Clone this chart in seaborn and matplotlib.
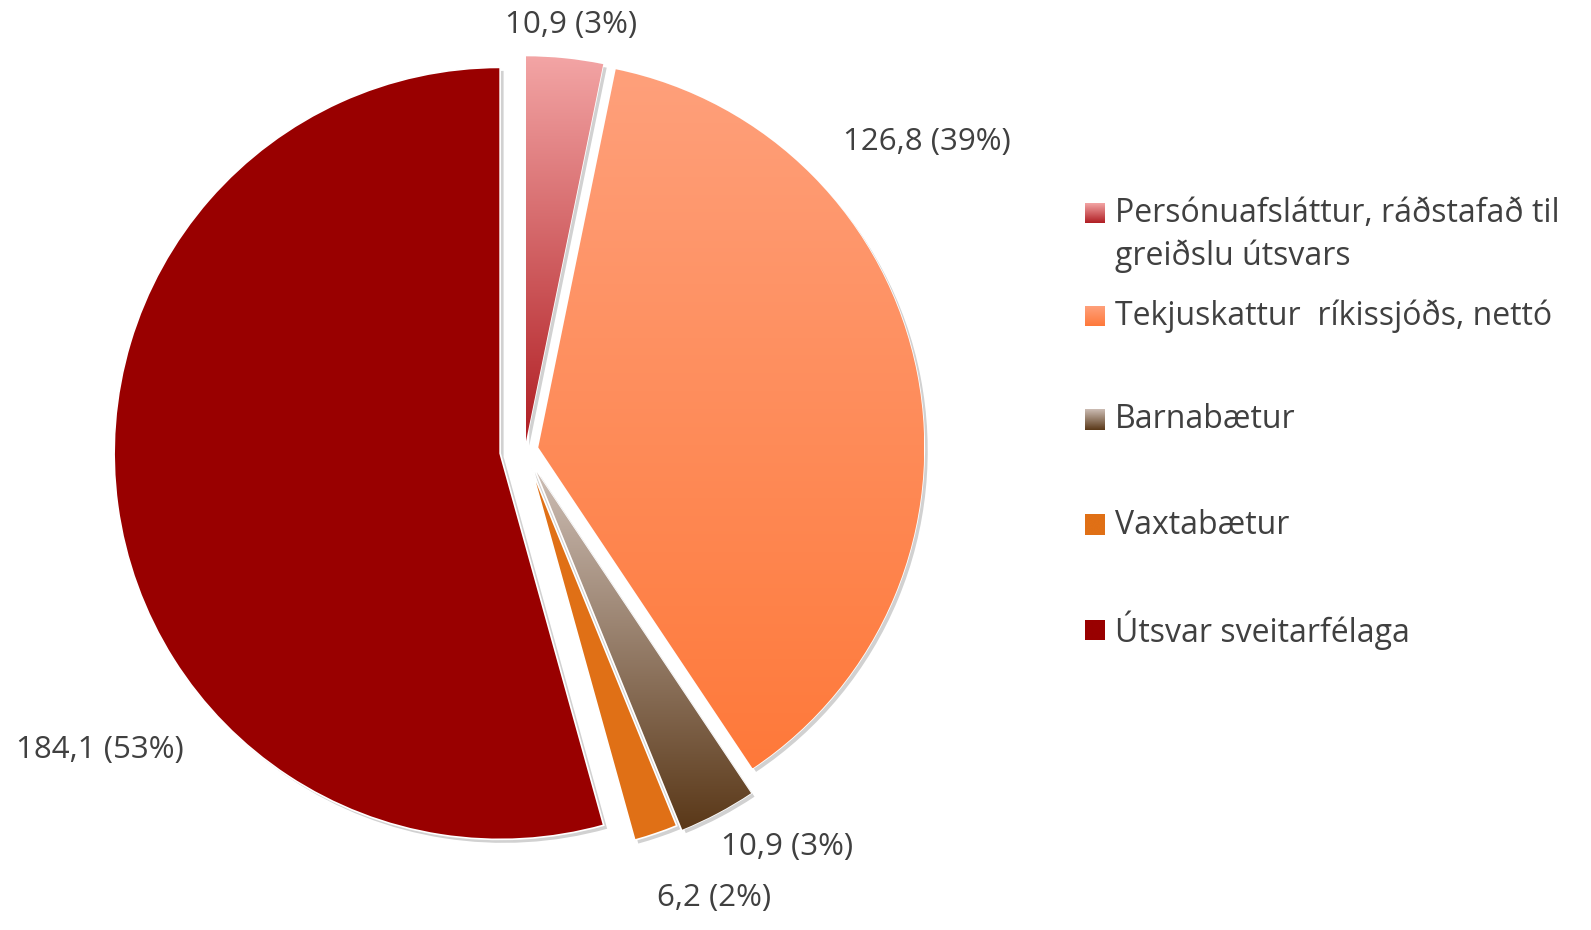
import numpy as np
import matplotlib
matplotlib.use("Agg")
import matplotlib.pyplot as plt
import matplotlib.patheffects as pe
from matplotlib.colors import to_rgb
import seaborn as sns

# data
categories = [
    "Persónuafsláttur, ráðstafað til\ngreiðslu útsvars",
    "Tekjuskattur  ríkissjóðs, nettó",
    "Barnabætur",
    "Vaxtabætur",
    "Útsvar sveitarfélaga",
]
values = [10.9, 126.8, 10.9, 6.2, 184.1]
shares = [3, 39, 3, 2, 53]

value_labels = [f"{v:.1f}".replace(".", ",") + f" ({s}%)"
                for v, s in zip(values, shares)]

# style
explode = [0.02, 0.035, 0.065, 0.05, 0.065]
grad_top = ["#F3A5A5", "#FEA07B", "#CCBDB4", "#E07016", "#990000"]
grad_bottom = ["#B01E23", "#FF793A", "#5A3818", "#E07016", "#990000"]
TEXT = "#404040"

W, H = 1591, 930
CX, CY, R = 525, 450, 386          # pie centre and radius in pixels

# label and legend positions, in pixels
label_px = [(571, 25), (927, 142), (787, 847), (714, 898), (100, 750)]
legend_marker_y = [213, 316, 420, 525, 630]
legend_text_y = [235, 316, 420, 525, 630]

sns.set_theme(style="white")
plt.rcParams["font.family"] = ["Open Sans", "DejaVu Sans"]


def px(x, y):
    return (x - CX) / R, (CY - y) / R


def gradient(ax, top, bottom, extent, clip=None, zorder=2):
    t = np.linspace(0, 1, 256)[:, None]
    rgb = (1 - t) * np.array(to_rgb(top)) + t * np.array(to_rgb(bottom))
    img = ax.imshow(rgb[:, None, :], extent=extent, origin="upper",
                    aspect="auto", interpolation="bilinear", zorder=zorder)
    if clip is not None:
        img.set_clip_path(clip)
    return img


fig = plt.figure(figsize=(W / 100, H / 100), dpi=100)
ax = fig.add_axes([0, 0, 1, 1])

wedges, _ = ax.pie(
    values, explode=explode, startangle=90, counterclock=False,
    colors=grad_bottom, radius=1, center=(0, 0),
    wedgeprops=dict(edgecolor="white", linewidth=1.2),
)

for w, top, bot in zip(wedges, grad_top, grad_bottom):
    w.set_path_effects([
        pe.SimplePatchShadow(offset=(2.5, -2.5), shadow_rgbFace="black", alpha=0.18),
        pe.Normal(),
    ])
    if top != bot:
        bb = w.get_patch_transform().transform_path(w.get_path()).get_extents()
        gradient(ax, top, bot, (bb.x0, bb.x1, bb.y0, bb.y1), clip=w)

for (lx, ly), lab in zip(label_px, value_labels):
    x, y = px(lx, ly)
    ax.text(x, y, lab, ha="center", va="center", fontsize=22.5, color=TEXT)

# legend
for name, my, ty, top, bot in zip(categories, legend_marker_y, legend_text_y,
                                  grad_top, grad_bottom):
    x0, y1 = px(1085, my - 10)
    x1, y0 = px(1105, my + 10)
    gradient(ax, top, bot, (x0, x1, y0, y1), zorder=3)
    tx, tyy = px(1115, ty)
    ax.text(tx, tyy, name, ha="left", va="center", fontsize=23,
            color=TEXT, linespacing=1.4)

ax.set_xlim(-CX / R, (W - CX) / R)
ax.set_ylim(-(H - CY) / R, CY / R)
ax.set_aspect("auto")
ax.axis("off")

fig.savefig("out.png", dpi=100, facecolor="white")
